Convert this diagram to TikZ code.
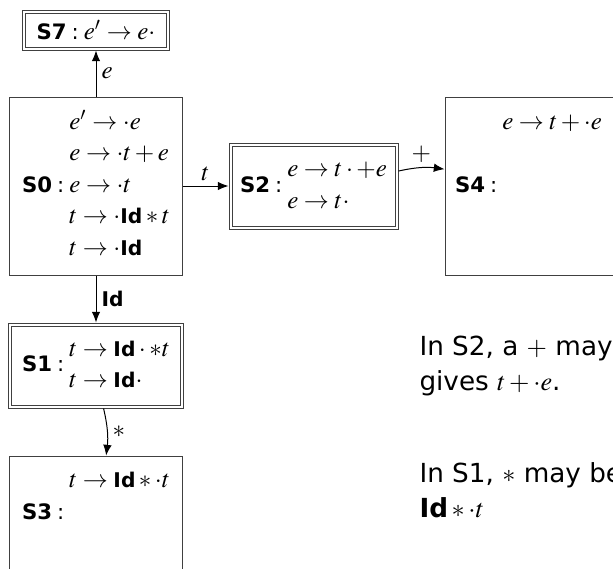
\documentclass[tikz,border=0pt]{standalone}
\usepackage{mathptmx}
\usepackage[no-math]{fontspec}
\setmainfont{DejaVu Sans}
\usetikzlibrary{arrows.meta}
\tikzset{
  state/.style  = {draw=black!75, line width=0.4pt, minimum width=68.8pt, minimum height=71.2pt,
                   inner sep=2pt, font=\fontsize{10}{12}\selectfont},
  final/.style  = {state, double, double distance=0.8pt, outer sep=0.8pt},  % accepting states
  arrow/.style  = {-{Latex[length=1.5mm, width=1.2mm]}, line width=0.4pt},
  elabel/.style = {font=\fontsize{10}{12}\selectfont, inner sep=2pt},
  note/.style   = {align=left, anchor=base west, inner sep=0pt, font=\fontsize{10.5}{14}\selectfont},
}
\newcommand{\Id}{\mbox{\fontsize{8.1}{10}\selectfont\bfseries Id}}
\newcommand{\stname}[1]{{\fontsize{8.5}{10}\selectfont\textbf{#1}\hspace{2pt}:\hspace{2pt}}}
\renewcommand{\arraystretch}{1.05}

\begin{document}
\begin{tikzpicture}[x=0.4pt, y=-0.4pt]
  \useasboundingbox (0,0) rectangle (613,568);
  \clip (0,0) rectangle (613,568);

  \node[final, minimum width=57.2pt, minimum height=14.8pt] at (96, 30) (s7)
    {\stname{S7}$e'\to e\cdot$};
  \node[state] at (96, 186) (s0)
    {\stname{S0}$\begin{array}{@{}l@{}} e'\to\cdot e\\ e\to\cdot t+e\\ e\to\cdot t\\ t\to\cdot\Id\ast t\\ t\to\cdot\Id \end{array}$};
  \node[final, minimum width=66.4pt, minimum height=33.2pt] at (313.5, 186) (s2)
    {\stname{S2}$\begin{array}{@{}l@{}} e\to t\cdot+e\\ e\to t\cdot \end{array}$};
  \node[state, minimum width=76pt, text width=68pt, align=left, inner sep=4pt] at (540, 186) (s4)
    {\stname{S4}$\begin{array}{@{}l@{}} e\to t+\cdot e\\ \\ \\ \\ \mbox{} \end{array}$};
  \node[final, minimum height=32.8pt] at (96, 365.5) (s1)
    {\stname{S1}$\begin{array}{@{}l@{}} t\to\Id\cdot\ast t\\ t\to\Id\cdot \end{array}$};
  \node[state, minimum height=45.6pt] at (96, 513) (s3)
    {\stname{S3}$\begin{array}{@{}l@{}} t\to\Id\ast\cdot t\\ \\ \mbox{} \end{array}$};

  \draw[arrow] (s0) -- node[elabel, right] {$e$} (s7);
  \draw[arrow] (s0) -- node[elabel, above] {$t$} (s2);
  \draw[arrow] (s2) to[bend left=10] node[elabel, above] {$+$} (s4);
  \draw[arrow] (s0) -- node[elabel, right] {\Id} (s1);
  \draw[arrow] (s1) to[bend left=10] node[elabel, right] {$\ast$} (s3);

  \node[note] at (419, 390) (n2) {In S2, a $+$ may\\gives $t+\cdot e$.};
  \node[note] at (419, 517) (n1) {In S1, $\ast$ may be\\$\mbox{\bfseries Id}\ast\cdot t$};
\end{tikzpicture}
\end{document}
